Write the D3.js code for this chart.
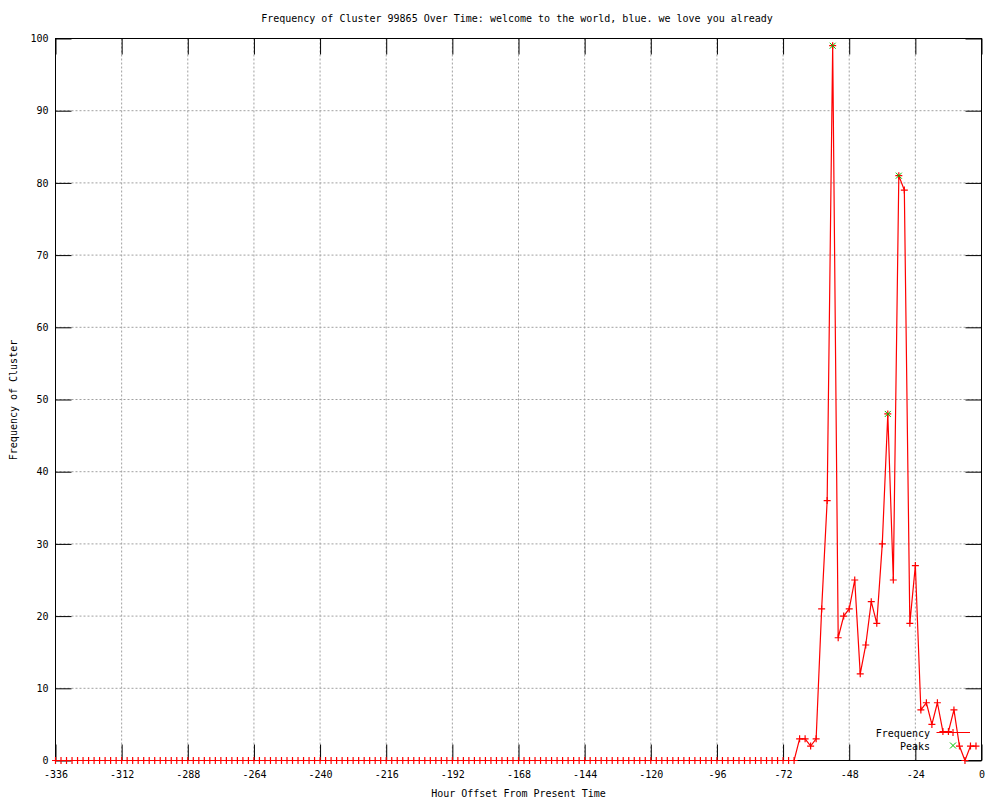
<html>
<head>
    <meta charset="utf-8">
    <title>Cluster Frequency</title>
    <script src="https://d3js.org/d3.v7.min.js"></script>
    <style>
        body {
            margin: 0;
            background: white;
        }
        text {
            font-family: "DejaVu Sans Mono", monospace;
            font-size: 10px;
            fill: black;
        }
        .grid line {
            stroke: #a0a0a0;
            stroke-width: 1;
            stroke-dasharray: 2,2;
        }
    </style>
</head>

<body>
    <div id="vis1"></div>

    <script type="text/javascript">
        // Data ***********************
        var titleText = "Frequency of Cluster 99865 Over Time: welcome to the world, blue. we love you already";
        var xLabelText = "Hour Offset From Present Time";
        var yLabelText = "Frequency of Cluster";

        // hours -336 .. -2, one bin every 2 hours
        var hours = d3.range(-336, 0, 2);
        var frequency = [
            0, 0, 0, 0, 0, 0, 0, 0, 0, 0, 0, 0, 0, 0, 0, 0, 0, 0, 0, 0,
            0, 0, 0, 0, 0, 0, 0, 0, 0, 0, 0, 0, 0, 0, 0, 0, 0, 0, 0, 0,
            0, 0, 0, 0, 0, 0, 0, 0, 0, 0, 0, 0, 0, 0, 0, 0, 0, 0, 0, 0,
            0, 0, 0, 0, 0, 0, 0, 0, 0, 0, 0, 0, 0, 0, 0, 0, 0, 0, 0, 0,
            0, 0, 0, 0, 0, 0, 0, 0, 0, 0, 0, 0, 0, 0, 0, 0, 0, 0, 0, 0,
            0, 0, 0, 0, 0, 0, 0, 0, 0, 0, 0, 0, 0, 0, 0, 0, 0, 0, 0, 0,
            0, 0, 0, 0, 0, 0, 0, 0, 0, 0, 0, 0, 0, 0, 0,
            3, 3, 2, 3, 21, 36, 99, 17, 20, 21, 25, 12, 16, 22, 19, 30,
            48, 25, 81, 79, 19, 27, 7, 8, 5, 8, 4, 4, 7, 2, 0, 2, 2
        ];
        var peakHours = [-54, -34, -30];
        var peakValues = [99, 48, 81];

        var xTicks = [-336, -312, -288, -264, -240, -216, -192, -168, -144, -120, -96, -72, -48, -24, 0];
        var yTicks = [0, 10, 20, 30, 40, 50, 60, 70, 80, 90, 100];

        // Layout ***********************
        var margin = {top: 38.5, right: 18.5, bottom: 39.5, left: 55.5};
        var width = 1000 - margin.left - margin.right;
        var height = 800 - margin.top - margin.bottom;
        var tickLen = 16;

        var x = d3.scaleLinear().domain([-336, 0]).range([0, width]);
        var y = d3.scaleLinear().domain([0, 100]).range([height, 0]);

        // plain hyphen minus, like the original
        var fmt = function (d) { return String(d); };

        var svgRoot = d3.select("#vis1").append("svg")
            .attr("width", 1000)
            .attr("height", 800);
        var svg = svgRoot.append("g")
            .attr("transform", "translate(" + margin.left + "," + margin.top + ")");

        // grid (inner lines only)
        var grid = svg.append("g").attr("class", "grid");
        grid.selectAll(".gx")
            .data(xTicks.filter(function (d) { return d > -336 && d < 0; }))
            .enter().append("line")
            .attr("x1", function (d) { return x(d); })
            .attr("x2", function (d) { return x(d); })
            .attr("y1", 0)
            .attr("y2", height);
        grid.selectAll(".gy")
            .data(yTicks.filter(function (d) { return d > 0 && d < 100; }))
            .enter().append("line")
            .attr("x1", 0)
            .attr("x2", width)
            .attr("y1", function (d) { return y(d); })
            .attr("y2", function (d) { return y(d); });

        // axes, ticks pointing inward on all four sides
        var bottomAxis = svg.append("g")
            .attr("transform", "translate(0," + height + ")")
            .call(d3.axisBottom(x).tickValues(xTicks).tickSize(-tickLen).tickPadding(10).tickFormat(fmt));
        var topAxis = svg.append("g")
            .call(d3.axisTop(x).tickValues(xTicks).tickSize(-tickLen).tickFormat(""));
        var leftAxis = svg.append("g")
            .call(d3.axisLeft(y).tickValues(yTicks).tickSize(-tickLen).tickPadding(7).tickFormat(fmt));
        var rightAxis = svg.append("g")
            .attr("transform", "translate(" + width + ",0)")
            .call(d3.axisRight(y).tickValues(yTicks).tickSize(-tickLen).tickFormat(""));

        [bottomAxis, topAxis, leftAxis, rightAxis].forEach(function (a) {
            a.select(".domain").remove();
            a.selectAll("line").attr("stroke", "black").attr("stroke-width", 1);
            a.selectAll("text")
                .attr("font-family", "DejaVu Sans Mono")
                .attr("font-size", 10)
                .attr("fill", "black");
        });

        // border
        svg.append("rect")
            .attr("width", width)
            .attr("height", height)
            .attr("fill", "none")
            .attr("stroke", "black")
            .attr("stroke-width", 1);

        // frequency line
        var data = hours.map(function (h, i) { return {hour: h, value: frequency[i]}; });
        var line = d3.line()
            .x(function (d) { return x(d.hour); })
            .y(function (d) { return y(d.value); });

        svg.append("path")
            .datum(data)
            .attr("fill", "none")
            .attr("stroke", "#ff0000")
            .attr("stroke-width", 1.2)
            .attr("d", line);

        function plus(g, cx, cy, color) {
            g.append("path")
                .attr("d", "M" + (cx - 3.5) + "," + cy + "H" + (cx + 3.5) + "M" + cx + "," + (cy - 3.5) + "V" + (cy + 3.5))
                .attr("stroke", color)
                .attr("stroke-width", 1.2)
                .attr("fill", "none");
        }
        function cross(g, cx, cy, color) {
            g.append("path")
                .attr("d", "M" + (cx - 3) + "," + (cy - 3) + "L" + (cx + 3) + "," + (cy + 3) + "M" + (cx - 3) + "," + (cy + 3) + "L" + (cx + 3) + "," + (cy - 3))
                .attr("stroke", color)
                .attr("stroke-width", 1)
                .attr("fill", "none");
        }

        var marks = svg.append("g");
        data.forEach(function (d) { plus(marks, x(d.hour), y(d.value), "#ff0000"); });

        var peaks = svg.append("g");
        peakHours.forEach(function (h, i) { cross(peaks, x(h), y(peakValues[i]), "#00c000"); });

        // legend (bottom right, inside plot)
        var legend = svgRoot.append("g");
        legend.append("text")
            .attr("x", 930)
            .attr("y", 737)
            .attr("text-anchor", "end")
            .text("Frequency");
        legend.append("line")
            .attr("x1", 936.5)
            .attr("x2", 970)
            .attr("y1", 732.5)
            .attr("y2", 732.5)
            .attr("stroke", "#ff0000")
            .attr("stroke-width", 1.2);
        plus(legend, 953, 732.5, "#ff0000");
        legend.append("text")
            .attr("x", 930)
            .attr("y", 750)
            .attr("text-anchor", "end")
            .text("Peaks");
        cross(legend, 953, 745.5, "#00c000");

        // title and axis labels
        svgRoot.append("text")
            .attr("x", 517)
            .attr("y", 22)
            .attr("text-anchor", "middle")
            .text(titleText);
        svgRoot.append("text")
            .attr("x", 518.5)
            .attr("y", 797)
            .attr("text-anchor", "middle")
            .text(xLabelText);
        svgRoot.append("text")
            .attr("transform", "translate(17,400) rotate(-90)")
            .attr("text-anchor", "middle")
            .text(yLabelText);
    </script>
</body>

</html>
